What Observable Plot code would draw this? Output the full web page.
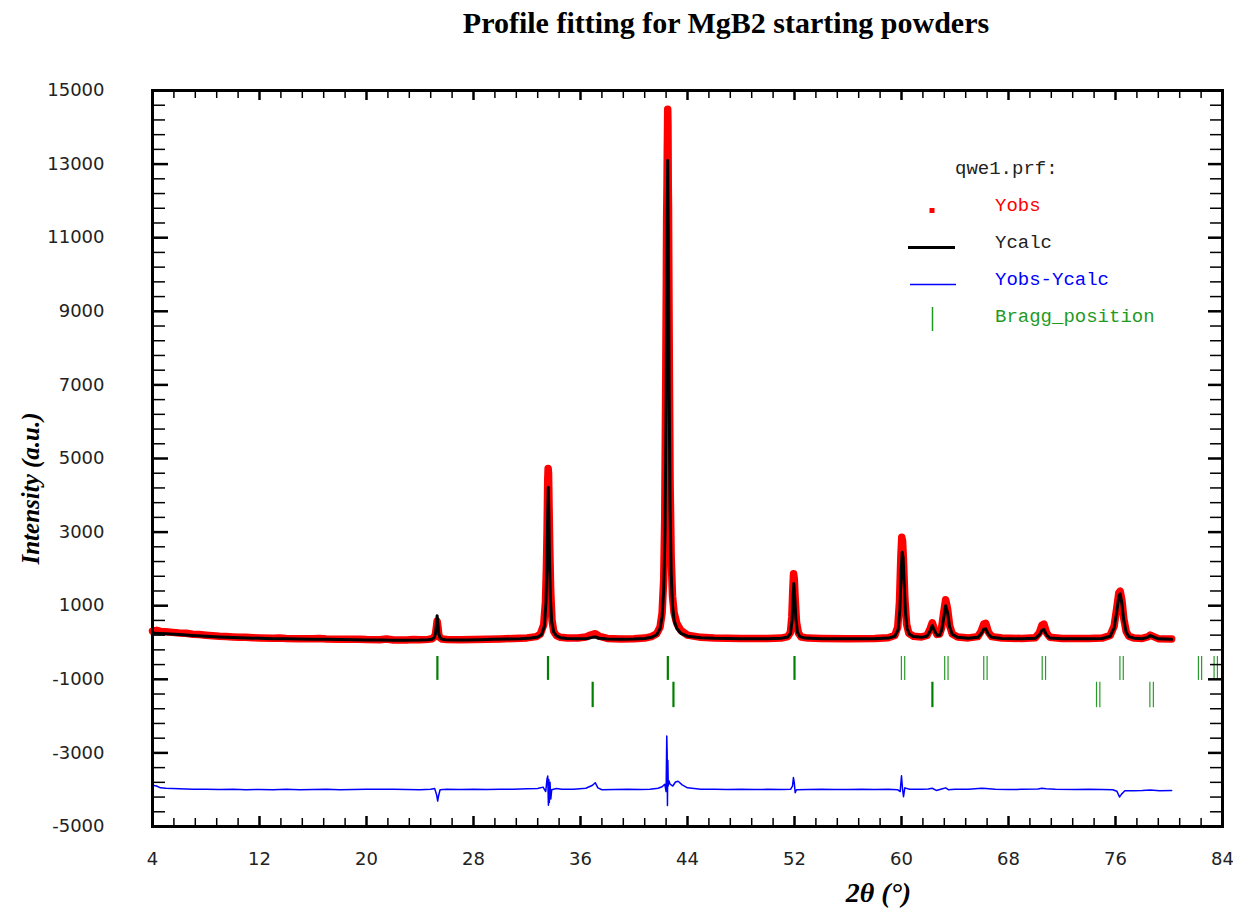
<!DOCTYPE html>
<html>
<head>
<meta charset="utf-8">
<script src="https://cdn.jsdelivr.net/npm/d3@7"></script>
<script src="https://cdn.jsdelivr.net/npm/@observablehq/plot@0.6"></script>
<style>
  html, body { margin: 0; padding: 0; background: #fff; }
  #wrap { position: relative; width: 1233px; height: 911px; }
  #title { position: relative; height: 60px; width: 1233px; }
  #title span { position: absolute; left: 726px; top: 23px; transform: translate(-50%, -50%);
    font-family: "Liberation Serif", "DejaVu Serif", serif; font-weight: bold; font-size: 30px; white-space: nowrap; color: #000; }
</style>
</head>
<body>
<div id="wrap">
  <div id="title"><span>Profile fitting for MgB2 starting powders</span></div>
  <div id="chart"></div>
</div>
<script>
// ---------- DATA ----------
const xTickLabels = [4, 12, 20, 28, 36, 44, 52, 60, 68, 76, 84];
const yTickLabels = [15000, 13000, 11000, 9000, 7000, 5000, 3000, 1000, -1000, -3000, -5000];

// Yobs (2theta, intensity)
const yobs = [
[4.0,310],[4.3,330],[4.6,300],[5,290],[5.5,275],[6,260],[6.5,250],[7,225],[7.5,215],[8,200],[8.5,185],[9,170],[9.5,160],[10,150],[10.5,140],[11,145],[11.5,130],[12,125],[13,115],[13.5,120],[14,110],[15,105],[16,100],[16.5,110],[17,95],[18,90],[19,85],[19.5,90],[20,80],[21,75],[21.5,95],[22,70],[23,70],[23.5,80],[24,75],[24.6,85],[24.9,100],[25.05,140],[25.15,220],[25.22,400],[25.28,580],[25.34,430],[25.4,220],[25.5,130],[25.65,95],[26,80],[27,75],[28,80],[29,85],[30,95],[31,110],[32,125],[32.7,160],[33.0,230],[33.25,480],[33.38,1100],[33.45,2000],[33.5,3000],[33.55,4400],[33.58,4730],[33.61,4600],[33.64,3900],[33.7,2600],[33.77,1400],[33.87,600],[34.0,300],[34.2,190],[34.5,140],[35,120],[35.8,120],[36.4,150],[36.8,210],[37.1,240],[37.4,170],[38,110],[39,95],[40,100],[40.8,120],[41.3,160],[41.7,240],[41.95,420],[42.1,800],[42.22,1700],[42.3,3400],[42.38,7500],[42.42,9980],[42.44,11510],[42.47,12480],[42.49,13380],[42.5,13680],[42.51,14060],[42.52,14490],[42.54,14060],[42.56,12480],[42.58,11800],[42.6,10280],[42.64,7600],[42.7,4300],[42.78,2300],[42.88,1250],[43.0,800],[43.2,520],[43.5,330],[44,200],[45,140],[46,120],[48,110],[50,110],[51,120],[51.5,160],[51.7,280],[51.8,700],[51.87,1400],[51.93,1870],[51.98,1750],[52.05,1200],[52.15,550],[52.3,250],[52.5,150],[53,120],[54,110],[56,105],[58,110],[59,130],[59.5,190],[59.72,420],[59.85,1100],[59.95,2300],[60.02,2860],[60.08,2750],[60.15,2200],[60.25,1200],[60.38,500],[60.55,250],[60.9,170],[61.5,150],[61.9,190],[62.15,380],[62.3,535],[62.45,380],[62.65,220],[62.85,230],[63.0,400],[63.15,800],[63.3,1160],[63.45,900],[63.6,460],[63.8,230],[64.2,150],[65,125],[65.7,160],[65.95,300],[66.15,500],[66.3,520],[66.5,280],[66.75,160],[67.5,120],[69,110],[70.0,130],[70.3,260],[70.5,470],[70.65,500],[70.85,260],[71.1,140],[72,110],[74,110],[75,120],[75.6,190],[75.9,450],[76.1,950],[76.25,1350],[76.35,1395],[76.48,1150],[76.62,650],[76.8,300],[77.0,170],[77.4,120],[78.0,110],[78.4,150],[78.6,200],[78.85,160],[79.2,105],[80.2,95]
];

// Ycalc (2theta, intensity)
const ycalc = [
[4.0,250],[4.5,245],[5,235],[6,215],[7,190],[8,170],[9,150],[10,135],[11,125],[12,115],[13,105],[14,100],[15,95],[16,90],[17,85],[18,80],[19,75],[20,70],[21,65],[22,60],[23,60],[24,65],[24.6,75],[24.9,90],[25.05,130],[25.15,230],[25.22,450],[25.28,730],[25.34,520],[25.4,250],[25.5,130],[25.65,90],[25.9,75],[26.5,70],[27.5,70],[28.5,75],[29.5,85],[30.5,95],[31.5,105],[32.3,120],[32.8,150],[33.1,220],[33.3,450],[33.42,1100],[33.5,2400],[33.55,3500],[33.59,4220],[33.63,3600],[33.68,2300],[33.75,1200],[33.85,550],[34.0,280],[34.2,180],[34.5,130],[35,110],[35.8,100],[36.5,110],[36.9,140],[37.1,150],[37.4,115],[38,95],[39,90],[40,95],[40.8,110],[41.3,140],[41.7,210],[41.95,380],[42.1,700],[42.22,1400],[42.32,3000],[42.4,6500],[42.46,10500],[42.52,13100],[42.57,10800],[42.63,6800],[42.7,3600],[42.78,1900],[42.88,1000],[43.0,600],[43.2,380],[43.5,250],[44,170],[45,130],[46,115],[48,105],[50,105],[51,115],[51.5,150],[51.7,250],[51.82,600],[51.9,1300],[51.95,1600],[52.01,1300],[52.1,650],[52.22,280],[52.4,160],[52.8,120],[54,105],[56,100],[58,105],[59,120],[59.5,170],[59.75,350],[59.88,900],[59.97,1900],[60.05,2450],[60.12,2300],[60.2,1600],[60.3,800],[60.42,380],[60.6,220],[60.9,160],[61.5,140],[61.9,170],[62.15,320],[62.3,460],[62.45,330],[62.65,200],[62.85,200],[63.0,330],[63.15,650],[63.3,1000],[63.45,800],[63.6,420],[63.8,220],[64.2,140],[65,115],[65.7,140],[65.95,230],[66.15,360],[66.3,370],[66.5,220],[66.75,140],[67.5,110],[69,100],[70.0,115],[70.3,200],[70.5,330],[70.65,350],[70.85,200],[71.1,120],[72,100],[74,100],[75,110],[75.6,170],[75.9,400],[76.1,850],[76.25,1250],[76.35,1325],[76.48,1050],[76.62,600],[76.8,280],[77.0,160],[77.4,115],[78.0,100],[78.4,140],[78.6,190],[78.85,150],[79.2,100],[80.2,85]
];

// Yobs-Ycalc, as plotted (shifted down)
const ydiff = [
[4.0,-3880],[4.3,-3900],[4.6,-3950],[5,-3960],[6,-3975],[7,-3985],[8,-3990],[9,-3995],[10,-3990],[11,-4000],[12,-3995],[13,-4000],[14,-3990],[15,-4000],[16,-3995],[17,-3990],[18,-4000],[19,-3995],[20,-3990],[21,-3985],[22,-3990],[23,-3995],[24,-4000],[24.8,-3990],[25.1,-3970],[25.25,-4150],[25.32,-4310],[25.4,-4150],[25.5,-4000],[26,-3990],[27,-3995],[28,-3990],[29,-3995],[30,-3990],[31,-3985],[32,-3975],[32.8,-3970],[33.2,-3930],[33.4,-4050],[33.5,-3700],[33.55,-3630],[33.58,-4100],[33.6,-4420],[33.63,-3720],[33.67,-4350],[33.72,-3800],[33.78,-4250],[33.85,-4000],[34.2,-3970],[34.6,-3990],[35.5,-3990],[36.4,-3960],[36.9,-3880],[37.1,-3810],[37.3,-3950],[37.6,-4000],[38.5,-3995],[39.5,-3990],[40.5,-3995],[41.2,-3990],[41.8,-3960],[42.1,-3920],[42.3,-3850],[42.4,-4050],[42.45,-2540],[42.48,-3000],[42.5,-4430],[42.53,-3200],[42.56,-3900],[42.6,-3750],[42.7,-3850],[42.9,-3900],[43.1,-3790],[43.3,-3770],[43.6,-3870],[44,-3950],[45,-3985],[46,-3990],[47,-3995],[48,-3990],[49,-3995],[50,-3990],[51,-3995],[51.7,-3990],[51.85,-3900],[51.92,-3670],[51.98,-3800],[52.05,-4080],[52.15,-4000],[53,-3995],[54,-3990],[55,-3995],[56,-3995],[57,-3990],[58,-3995],[59,-3990],[59.7,-4000],[59.9,-4050],[60.0,-3620],[60.08,-4000],[60.15,-4190],[60.25,-3950],[60.6,-3990],[61.5,-3990],[62.0,-3980],[62.3,-3960],[62.6,-4020],[63.0,-3980],[63.3,-3950],[63.5,-4000],[64,-3990],[65,-3985],[66,-3960],[66.3,-3970],[67,-3990],[68,-3995],[69,-3990],[70.2,-3980],[70.5,-3960],[70.8,-3975],[71.5,-3990],[73,-3995],[74,-3990],[75,-3995],[75.8,-4000],[76.1,-4040],[76.3,-4200],[76.45,-4120],[76.7,-4030],[77.3,-4030],[78,-4025],[78.6,-4010],[79.3,-4030],[80.2,-4020]
];

// Bragg positions (2theta): phase 1 (MgB2), phase 2 (MgO)
const bragg1Single = [25.30, 33.57, 42.53, 52.00];
const bragg1Double = [59.99, 60.24, 63.23, 63.48, 66.15, 66.40, 70.52, 70.77, 76.33, 76.58, 82.20, 82.44, 83.37, 83.62];
const bragg2Single = [36.91, 42.95, 62.31];
const bragg2Double = [74.58, 74.83, 78.57, 78.83];

// ---------- CHART ----------
const W = 1233, H = 851;
const mL = 152, mR = 11, mT = 30, mB = 85;
const pw = W - mL - mR, ph = H - mT - mB;

const xMinor = d3.range(4, 84.001, 1.6).filter(v => !xTickLabels.some(t => Math.abs(t - v) < 1e-6));
const yMinor = d3.range(-5000, 15000.1, 400).filter(v => !yTickLabels.some(t => Math.abs(t - v) < 1e-6));

const tickFont = {fontFamily: "DejaVu Sans, Verdana, sans-serif", fontSize: 18, fill: "#222"};
const serifTitle = {fontFamily: "Liberation Serif, DejaVu Serif, serif", fontWeight: "bold", fontStyle: "italic", fill: "#000"};

const chart = Plot.plot({
  width: W, height: H,
  marginLeft: mL, marginRight: mR, marginTop: mT, marginBottom: mB,
  x: {domain: [4, 84], axis: null},
  y: {domain: [-5000, 15000], axis: null},
  style: {background: "white", overflow: "visible"},
  marks: [
    // observed: thick red trace + square points
    Plot.line(yobs, {x: d => d[0], y: d => d[1], stroke: "#ff0000", strokeWidth: 7.5}),
    Plot.dot(yobs, {x: d => d[0], y: d => d[1], symbol: "square", r: 2.8, fill: "#ff0000"}),
    // calculated
    Plot.line(ycalc, {x: d => d[0], y: d => d[1], stroke: "#000", strokeWidth: 3}),
    // difference
    Plot.line(ydiff, {x: d => d[0], y: d => d[1], stroke: "#0000ff", strokeWidth: 1.5}),
    // Bragg positions
    Plot.ruleX(bragg1Single, {x: d => d, y1: -380, y2: -1030, stroke: "#008000", strokeWidth: 2.2}),
    Plot.ruleX(bragg1Double, {x: d => d, y1: -380, y2: -1030, stroke: "#2a9a2a", strokeWidth: 1.2}),
    Plot.ruleX(bragg2Single, {x: d => d, y1: -1080, y2: -1770, stroke: "#008000", strokeWidth: 2.2}),
    Plot.ruleX(bragg2Double, {x: d => d, y1: -1080, y2: -1770, stroke: "#2a9a2a", strokeWidth: 1.2}),
    // inward ticks
    Plot.tickX(xTickLabels, {x: d => d, insetTop: ph - 10, stroke: "#000", strokeWidth: 2.5}),
    Plot.tickX(xTickLabels, {x: d => d, insetBottom: ph - 10, stroke: "#000", strokeWidth: 2.5}),
    Plot.tickX(xMinor, {x: d => d, insetTop: ph - 8, stroke: "#000", strokeWidth: 1.5}),
    Plot.tickX(xMinor, {x: d => d, insetBottom: ph - 8, stroke: "#000", strokeWidth: 1.5}),
    Plot.tickY(yTickLabels, {y: d => d, insetRight: pw - 16, stroke: "#000", strokeWidth: 2.5}),
    Plot.tickY(yTickLabels, {y: d => d, insetLeft: pw - 14, stroke: "#000", strokeWidth: 2.5}),
    Plot.tickY(yMinor, {y: d => d, insetRight: pw - 13, stroke: "#000", strokeWidth: 1.5}),
    Plot.tickY(yMinor, {y: d => d, insetLeft: pw - 12, stroke: "#000", strokeWidth: 1.5}),
    Plot.frame({stroke: "#000", strokeWidth: 3}),
    // tick labels
    Plot.text(xTickLabels, {x: d => d, text: d => String(d), frameAnchor: "bottom", lineAnchor: "middle", dy: 33, ...tickFont}),
    Plot.text(yTickLabels, {y: d => d, text: d => String(d), frameAnchor: "left", dx: -48, textAnchor: "end", lineAnchor: "middle", ...tickFont}),
    // axis titles
    Plot.text(["Intensity (a.u.)"], {frameAnchor: "left", dx: -122, dy: 30, rotate: -90, textAnchor: "middle", lineAnchor: "middle", fontSize: 25, ...serifTitle}),
    Plot.text(["2\u03B8 (\u00B0)"], {frameAnchor: "bottom", dx: 191, dy: 67, textAnchor: "middle", lineAnchor: "middle", fontSize: 28, ...serifTitle})
  ]
});

document.getElementById("chart").appendChild(chart);

// ---------- LEGEND (inside the plot, top right) ----------
const svg = d3.select(chart);
const off = 60; // page y offset of the svg
const lg = svg.append("g")
  .attr("font-family", "Liberation Mono, DejaVu Sans Mono, monospace")
  .attr("font-size", 19)
  .attr("text-anchor", "start");
const legendText = [
  {t: "qwe1.prf:", x: 955, y: 167, c: "#222"},
  {t: "Yobs", x: 995, y: 204, c: "#ff0000"},
  {t: "Ycalc", x: 995, y: 241, c: "#222"},
  {t: "Yobs-Ycalc", x: 995, y: 278, c: "#0000ff"},
  {t: "Bragg_position", x: 995, y: 315, c: "#1f9a1f"}
];
legendText.forEach(d => lg.append("text").attr("x", d.x).attr("y", d.y - off).attr("dy", "0.35em").attr("fill", d.c).text(d.t));
lg.append("rect").attr("x", 929.5).attr("y", 208 - off).attr("width", 5).attr("height", 5).attr("fill", "#ff0000");
lg.append("line").attr("x1", 908).attr("x2", 955).attr("y1", 247.5 - off).attr("y2", 247.5 - off).attr("stroke", "#000").attr("stroke-width", 3);
lg.append("line").attr("x1", 910).attr("x2", 956).attr("y1", 284.5 - off).attr("y2", 284.5 - off).attr("stroke", "#0000ff").attr("stroke-width", 1.5);
lg.append("line").attr("x1", 932.5).attr("x2", 932.5).attr("y1", 307 - off).attr("y2", 331 - off).attr("stroke", "#1f9a1f").attr("stroke-width", 1.5);
</script>
</body>
</html>
